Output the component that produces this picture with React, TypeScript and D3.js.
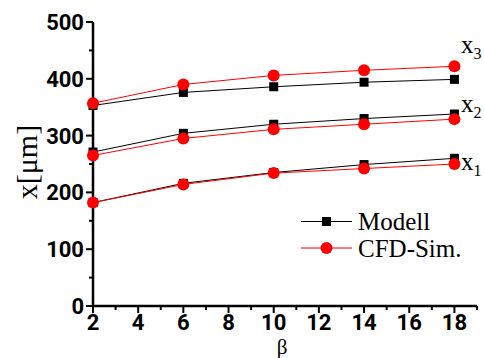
import React from "react";
import { scaleLinear, line, range } from "d3";

const betas = [2, 6, 10, 14, 18];
const modellX1 = [182, 216, 235, 249, 260];
const modellX2 = [271, 304, 320, 330, 338];
const modellX3 = [353, 376, 386, 394, 399];
const cfdX1 = [182, 214, 234, 242, 250];
const cfdX2 = [265, 295, 311, 320, 329];
const cfdX3 = [357, 390, 406, 415, 422];
const xTicks = [2, 4, 6, 8, 10, 12, 14, 16, 18];
const yTicks = [0, 100, 200, 300, 400, 500];
const seriesLabels = ["1", "2", "3"];

const W = 484;
const H = 358;

const sans: React.CSSProperties = { fontFamily: "Roboto, sans-serif", fontWeight: 700, fontSize: 22 };
const serif: React.CSSProperties = { fontFamily: "Liberation Serif, Times New Roman, serif", fontSize: 25 };

export default function App() {
  const x = scaleLinear().domain([2, 19]).range([93, 477]);
  const y = scaleLinear().domain([0, 500]).range([306, 22]);
  const path = line<number>()
    .x((d, i) => x(betas[i]))
    .y(d => y(d));

  const modell = [modellX1, modellX2, modellX3];
  const cfd = [cfdX1, cfdX2, cfdX3];

  return (
    <svg width={W} height={H} style={{ position: "absolute", left: 0, top: 0 }}>
      <rect width={W} height={H} fill="#fff" />
      {/* axes */}
      <line x1={93} x2={93} y1={y(500)} y2={307} stroke="#000" strokeWidth={2.5} />
      <line x1={92} x2={477} y1={306} y2={306} stroke="#000" strokeWidth={2.5} />
      {range(0, 501, 50).map(v => (
        <line key={"yt" + v} x1={v % 100 === 0 ? 86 : 89} x2={93} y1={y(v)} y2={y(v)}
          stroke="#000" strokeWidth={2} />
      ))}
      {range(2, 20, 1).map(v => (
        <line key={"xt" + v} x1={x(v)} x2={x(v)} y1={306} y2={v % 2 === 0 ? 313 : 310}
          stroke="#000" strokeWidth={2} />
      ))}
      {yTicks.map(v => (
        <text key={"yl" + v} x={84} y={y(v)} dy="0.36em" textAnchor="end" style={sans}>{v}</text>
      ))}
      {xTicks.map(v => (
        <text key={"xl" + v} x={x(v)} y={330} textAnchor="middle" style={sans}>{v}</text>
      ))}
      <text x={282} y={353.5} textAnchor="middle" style={{ ...serif, fontSize: 21 }}>β</text>
      <text transform="translate(37,162) rotate(-90)" textAnchor="middle"
        style={{ ...serif, fontSize: 30 }}>x[μm]</text>

      {/* series */}
      {modell.map((s, k) => (
        <path key={"ml" + k} d={path(s) || ""} fill="none" stroke="#000" strokeWidth={1} />
      ))}
      {cfd.map((s, k) => (
        <path key={"cl" + k} d={path(s) || ""} fill="none" stroke="#ff0000" strokeWidth={1} />
      ))}
      {modell.map((s, k) => s.map((v, i) => (
        <rect key={"ms" + k + i} x={x(betas[i]) - 4.5} y={y(v) - 4.5} width={9} height={9} fill="#000" />
      )))}
      {cfd.map((s, k) => s.map((v, i) => (
        <circle key={"cc" + k + i} cx={x(betas[i])} cy={y(v)} r={6} fill="#ff0000" />
      )))}

      {/* series labels */}
      {seriesLabels.map((lab, k) => (
        <text key={"sl" + k} x={461} y={[170, 112, 53][k]} style={serif}>
          x<tspan style={{ fontSize: 16 }} dy={6}>{lab}</tspan>
        </text>
      ))}

      {/* legend */}
      <line x1={301} x2={352} y1={221.5} y2={221.5} stroke="#000" strokeWidth={1} />
      <rect x={322} y={217} width={9} height={9} fill="#000" />
      <text x={358} y={230} style={serif}>Modell</text>
      <line x1={301} x2={352} y1={248} y2={248} stroke="#ff0000" strokeWidth={1} />
      <circle cx={326.5} cy={248} r={6} fill="#ff0000" />
      <text x={358} y={256.5} style={serif}>CFD-Sim.</text>
    </svg>
  );
}
